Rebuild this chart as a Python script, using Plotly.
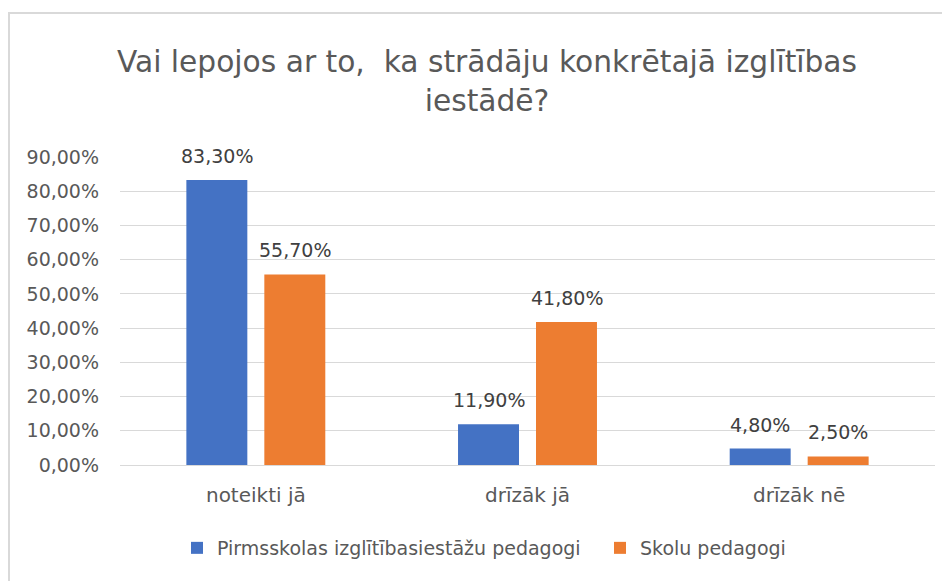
import plotly.graph_objects as go

categories = ["noteikti jā", "drīzāk jā", "drīzāk nē"]
series_names = ["Pirmsskolas izglītībasiestāžu pedagogi", "Skolu pedagogi"]
preschool = [0.833, 0.119, 0.048]
school = [0.557, 0.418, 0.025]
colors = ["#4472C4", "#ED7D31"]
title_text = "Vai lepojos ar to,\u00a0 ka strādāju konkrētajā izglītības<br>iestādē?"

FONT = "DejaVu Sans, sans-serif"
W, H = 942, 573  # page body has an 8px margin

fig = go.Figure()
for name, vals, col, lg in zip(series_names, [preschool, school], colors, ["legend", "legend2"]):
    fig.add_trace(go.Bar(
        x=categories, y=vals, name=name, marker_color=col,
        marker_line_width=0, cliponaxis=False, legend=lg, showlegend=True,
    ))

annotations = []
for vals, shift in zip([preschool, school], [-39, 39]):
    for c, v in zip(categories, vals):
        annotations.append(dict(
            x=c, y=v, xref="x", yref="y", text=f"{v*100:.2f}%".replace(".", ","),
            showarrow=False, xshift=shift, yshift=24, yanchor="middle",
            font=dict(family=FONT, size=19, color="#404040")))

legend_common = dict(orientation="h", xref="container", yref="container",
                     xanchor="left", y=1-540/H, yanchor="middle",
                     font=dict(family=FONT, size=19, color="#595959"),
                     itemwidth=30, bgcolor="rgba(0,0,0,0)", visible=True)

fig.update_layout(
    width=W, height=H,
    showlegend=True,
    separators=",.",
    paper_bgcolor="white", plot_bgcolor="white",
    margin=dict(l=112, r=15, t=149, b=116, autoexpand=False),
    barmode="group", bargap=0.426, bargroupgap=0.218,
    title=dict(text=title_text, x=479/W, xanchor="center", xref="container",
               y=1-64/H, yanchor="middle", yref="container",
               font=dict(family=FONT, size=29.7, color="#595959")),
    font=dict(family=FONT, size=19, color="#595959"),
    legend=dict(x=169/W, **legend_common),
    legend2=dict(x=592/W, **legend_common),
    xaxis=dict(showgrid=False, showline=False, ticks="", ticklabelstandoff=16,
               tickfont=dict(family=FONT, size=20, color="#595959")),
    yaxis=dict(range=[0, 0.9], tickvals=[i/10 for i in range(10)], tickformat=".2%",
               showgrid=True, gridcolor="#D9D9D9", gridwidth=1.3, zeroline=True,
               zerolinecolor="#D9D9D9", zerolinewidth=1.3, showline=False,
               ticklabelstandoff=20,
               tickfont=dict(family=FONT, size=19, color="#595959")),
    annotations=annotations,
    shapes=[dict(type="rect", xref="paper", yref="paper",
                 x0=(9-120)/815, x1=(970-120)/815,
                 y0=(465-620)/308, y1=(465-13)/308,
                 line=dict(color="#D9D9D9", width=2), fillcolor="rgba(0,0,0,0)",
                 layer="below")],
)

fig.write_html("out.html")
